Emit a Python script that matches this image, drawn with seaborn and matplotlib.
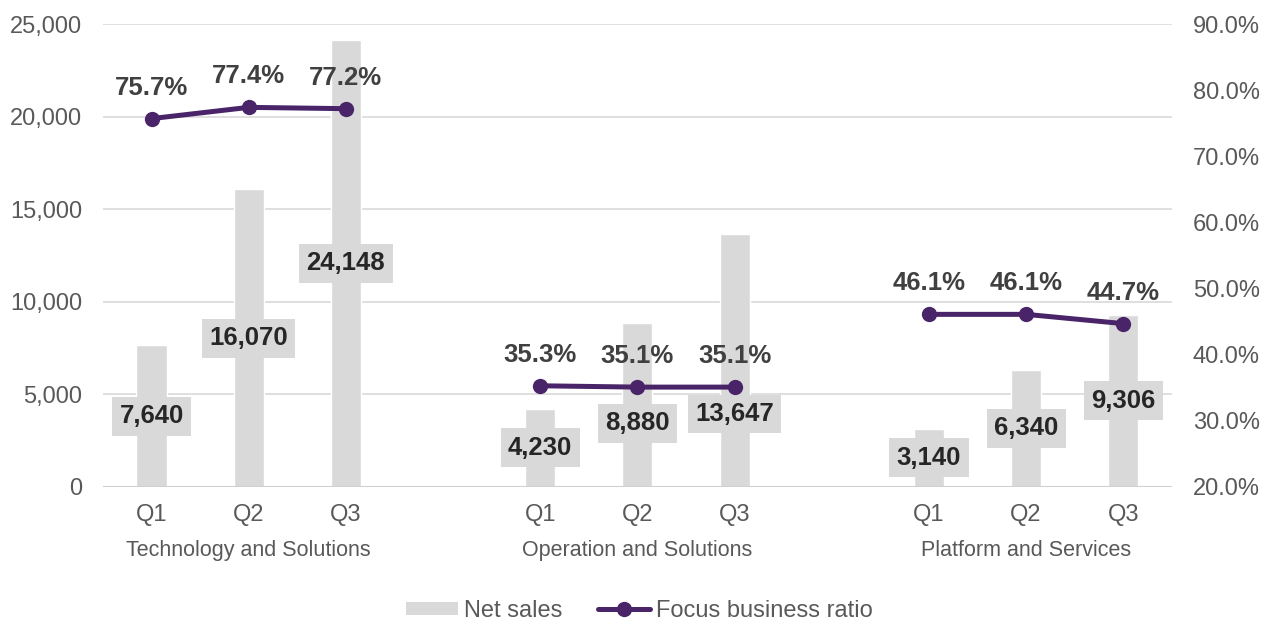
import matplotlib
matplotlib.use("Agg")
import matplotlib.pyplot as plt
import seaborn as sns
import pandas as pd
from matplotlib.patches import Patch
from matplotlib.lines import Line2D

# ---- data ----
groups = ["Technology and Solutions", "Operation and Solutions", "Platform and Services"]
quarters = ["Q1", "Q2", "Q3"]
net_sales_tech = [7640, 16070, 24148]
net_sales_oper = [4230, 8880, 13647]
net_sales_plat = [3140, 6340, 9306]
ratio_tech = [75.7, 77.4, 77.2]
ratio_oper = [35.3, 35.1, 35.1]
ratio_plat = [46.1, 46.1, 44.7]
left_ticks = [0, 5000, 10000, 15000, 20000, 25000]
right_ticks = [20, 30, 40, 50, 60, 70, 80, 90]

sales = [net_sales_tech, net_sales_oper, net_sales_plat]
ratios = [ratio_tech, ratio_oper, ratio_plat]

# layout: labels that were nudged to avoid the line (data-unit y of label centre)
label_nudge = {(1, 1): 3450, (1, 2): 3940}

rows = []
for gi, g in enumerate(groups):
    for qi, q in enumerate(quarters):
        rows.append({"gi": gi, "qi": qi, "group": g, "quarter": q, "pos": gi * 4 + qi,
                     "sales": sales[gi][qi], "ratio": ratios[gi][qi]})
df = pd.DataFrame(rows)

sns.set_theme(style="white")
plt.rcParams["font.family"] = ["Liberation Sans", "DejaVu Sans"]

BAR = "#D9D9D9"
LINE = "#4A2468"
TICK = "#595959"
LBL = "#404040"

fig = plt.figure(figsize=(12.71, 6.24), dpi=100)
ax = fig.add_axes([0.081, 0.2196, 0.841, 0.7419])

sns.barplot(data=df, x="pos", y="sales", native_scale=True, width=0.31,
            color=BAR, saturation=1, ax=ax, errorbar=None)
ax.set_xlim(-0.5, 10.5)
ax.set_ylim(0, 25000)
ax.set_yticks(left_ticks)
ax.set_yticklabels([f"{v:,}" for v in left_ticks])
ax.set_xticks(df["pos"])
ax.set_xticklabels(df["quarter"])
ax.set_xlabel("")
ax.set_ylabel("")
for v in left_ticks[1:]:
    ax.axhline(v, color="#D9D9D9", lw=1.2, zorder=0)
ax.axhline(0, color="#D0D0D0", lw=1.5, zorder=1)
for s in ax.spines.values():
    s.set_visible(False)
ax.tick_params(axis="both", length=0, labelsize=17, colors=TICK)
ax.tick_params(axis="x", pad=12)
ax.tick_params(axis="y", pad=15)

# bar labels with grey boxes
for _, r in df.iterrows():
    y = label_nudge.get((r["gi"], r["qi"]), r["sales"] / 2)
    ax.text(r["pos"], y, f"{r['sales']:,}", ha="center", va="center",
            fontsize=18.5, fontweight="bold", color="#262626", zorder=5,
            bbox=dict(boxstyle="square,pad=0.29", fc=BAR, ec="none"))

# group labels
for gi, g in enumerate(groups):
    ax.text(gi * 4 + 1, -0.138, g, transform=ax.get_xaxis_transform(),
            ha="center", va="center", fontsize=15.5, color=TICK)

ax2 = ax.twinx()
for gi, g in enumerate(groups):
    sub = df[df["group"] == g]
    sns.lineplot(data=sub, x="pos", y="ratio", ax=ax2, color=LINE, lw=3.6,
                 marker="o", markersize=11, markeredgewidth=0, legend=False)
    for _, r in sub.iterrows():
        ax2.annotate(f"{r['ratio']:.1f}%", (r["pos"], r["ratio"]),
                     xytext=(0, 31), textcoords="offset pixels",
                     ha="center", va="center", fontsize=18.5, fontweight="bold", color=LBL)
ax2.set_ylim(20, 90)
ax2.set_yticks(right_ticks)
ax2.set_yticklabels([f"{v:.1f}%" for v in right_ticks])
ax2.set_ylabel("")
ax2.set_xlabel("")
for s in ax2.spines.values():
    s.set_visible(False)
ax2.tick_params(axis="y", length=0, labelsize=17, colors=TICK, pad=15)
ax2.set_xlim(-0.5, 10.5)

handles = [Patch(fc=BAR, ec="none", label="Net sales"),
           Line2D([0], [0], color=LINE, lw=3.6, marker="o", markersize=11,
                  markeredgewidth=0, label="Focus business ratio")]
fig.legend(handles=handles, loc="center", bbox_to_anchor=(0.503, 0.021), ncol=2,
           frameon=False, fontsize=17, labelcolor=TICK, handlelength=2.2,
           handleheight=0.5, handletextpad=0.25, columnspacing=1.5)

fig.savefig("out.png", dpi=100)
